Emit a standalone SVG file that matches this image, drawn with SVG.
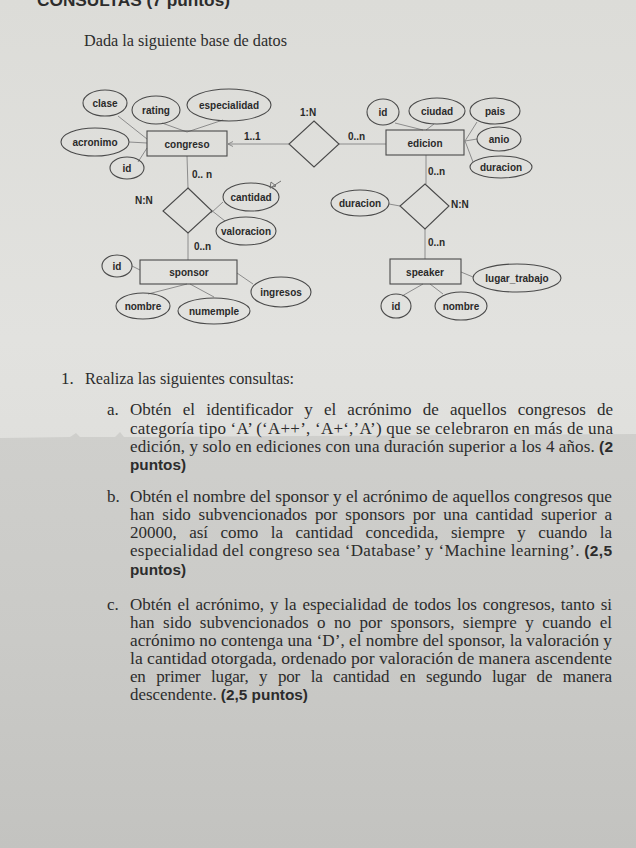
<svg xmlns="http://www.w3.org/2000/svg" width="636" height="848" viewBox="0 0 636 848">
<defs>
<linearGradient id="paper" x1="0" y1="0" x2="0" y2="1">
<stop offset="0" stop-color="#dcdcd8"/>
<stop offset="0.4" stop-color="#e2e2df"/>
<stop offset="1" stop-color="#d6d6d3"/>
</linearGradient>
<linearGradient id="shade" x1="0" y1="0" x2="0" y2="1">
<stop offset="0" stop-color="#cfcfcc"/>
<stop offset="0.5" stop-color="#cacac7"/>
<stop offset="1" stop-color="#c3c3c0"/>
</linearGradient>
<marker id="arr" markerWidth="6" markerHeight="6" refX="5" refY="3" orient="auto" markerUnits="userSpaceOnUse">
<path d="M0,0.5 L5,3 L0,5.5" fill="none" stroke="#777" stroke-width="0.8"/>
</marker>
<style>
.sh{fill:none;stroke:#4a4a4a;stroke-width:1.1}
.ln{fill:none;stroke:#8c8c8c;stroke-width:1}
.lb{font-family:"Liberation Sans",Arial,sans-serif;font-weight:bold;font-size:10px;fill:#2a2a2a;text-anchor:middle;dominant-baseline:central}
.card{font-family:"Liberation Sans",Arial,sans-serif;font-weight:bold;font-size:10px;fill:#2a2a2a}
.tx{font-family:"Liberation Serif","Times New Roman",serif;font-size:17px;fill:#2c2c2c}
.bd{font-family:"Liberation Sans",Arial,sans-serif;font-weight:bold;font-size:15.5px}
</style>
</defs>
<rect x="0" y="0" width="636" height="848" fill="url(#paper)"/>
<path d="M0,438 L70,437 L76,433 L80,437 L115,437 L120,432 L124,437 L636,434 L636,848 L0,848 Z" fill="url(#shade)"/>

<text x="37" y="6" class="tx" style="font-family:'Liberation Sans',Arial,sans-serif;font-weight:bold;font-size:17px" textLength="193" lengthAdjust="spacingAndGlyphs">CONSULTAS (7 puntos)</text>
<text x="84" y="46" class="tx" textLength="203" lengthAdjust="spacingAndGlyphs">Dada la siguiente base de datos</text>

<g id="connectors">
<line class="ln" x1="118" y1="116" x2="147" y2="139"/>
<line class="ln" x1="162" y1="123" x2="187" y2="132"/>
<line class="ln" x1="223" y1="120" x2="187" y2="132"/>
<line class="ln" x1="129" y1="142" x2="147" y2="143"/>
<line class="ln" x1="138" y1="162" x2="147" y2="148"/>
<line class="ln" x1="289" y1="144" x2="228" y2="144" marker-end="url(#arr)"/>
<line class="ln" x1="339" y1="144" x2="386" y2="144"/>
<line class="ln" x1="395" y1="123" x2="423" y2="130"/>
<line class="ln" x1="434" y1="124" x2="426" y2="130"/>
<line class="ln" x1="477" y1="122" x2="465" y2="141"/>
<line class="ln" x1="477" y1="139" x2="465" y2="141"/>
<line class="ln" x1="473" y1="162" x2="465" y2="141"/>
<line class="ln" x1="426" y1="155" x2="426" y2="184"/>
<line class="ln" x1="389" y1="204" x2="400" y2="206"/>
<line class="ln" x1="425" y1="229" x2="425" y2="259"/>
<line class="ln" x1="461" y1="272" x2="473" y2="277"/>
<line class="ln" x1="423" y1="284" x2="402" y2="296"/>
<line class="ln" x1="430" y1="284" x2="443" y2="294"/>
<line class="ln" x1="187" y1="156" x2="188" y2="188"/>
<line class="ln" x1="223" y1="202" x2="211" y2="213"/>
<line class="ln" x1="225" y1="221" x2="211" y2="210"/>
<line class="ln" x1="188" y1="233" x2="188" y2="260"/>
<line class="ln" x1="132" y1="266" x2="140" y2="270"/>
<line class="ln" x1="237" y1="273" x2="253" y2="284"/>
<line class="ln" x1="187" y1="284" x2="148" y2="294"/>
<line class="ln" x1="190" y1="284" x2="214" y2="297"/>
</g>

<g id="congreso"><rect class="sh" x="147" y="131" width="80" height="25"/><text class="lb" x="187" y="144">congreso</text></g>
<g id="clase"><ellipse class="sh" cx="105" cy="103" rx="22" ry="13"/><text class="lb" x="105" y="103">clase</text></g>
<g id="rating"><ellipse class="sh" cx="156" cy="110" rx="24" ry="14"/><text class="lb" x="156" y="110">rating</text></g>
<g id="especialidad"><ellipse class="sh" cx="229" cy="105" rx="42" ry="16"/><text class="lb" x="229" y="105">especialidad</text></g>
<g id="acronimo"><ellipse class="sh" cx="95" cy="142" rx="34" ry="14"/><text class="lb" x="95" y="142">acronimo</text></g>
<g id="id-congreso"><ellipse class="sh" cx="127" cy="168" rx="17" ry="11"/><text class="lb" x="127" y="168">id</text></g>

<g id="rel-1N"><polygon class="sh" points="314,121 339,144 314,167 289,144"/><text class="card" x="300" y="116">1:N</text><text class="card" x="244" y="140">1..1</text><text class="card" x="348" y="140">0..n</text></g>

<g id="edicion"><rect class="sh" x="386" y="130" width="78" height="25"/><text class="lb" x="425" y="143">edicion</text></g>
<g id="id-edicion"><ellipse class="sh" cx="383" cy="112" rx="16" ry="13"/><text class="lb" x="383" y="112">id</text></g>
<g id="ciudad"><ellipse class="sh" cx="437" cy="111" rx="28" ry="13"/><text class="lb" x="437" y="111">ciudad</text></g>
<g id="pais"><ellipse class="sh" cx="495" cy="111" rx="25" ry="13"/><text class="lb" x="495" y="111">pais</text></g>
<g id="anio"><ellipse class="sh" cx="499" cy="139" rx="22" ry="12"/><text class="lb" x="499" y="139">anio</text></g>
<g id="duracion-edicion"><ellipse class="sh" cx="501" cy="167" rx="31" ry="11"/><text class="lb" x="501" y="167">duracion</text></g>

<g id="rel-NN-right"><polygon class="sh" points="425,184 449,206 425,229 400,206"/><text class="card" x="428" y="175">0..n</text><text class="card" x="451" y="208">N:N</text><text class="card" x="428" y="246">0..n</text></g>
<g id="duracion-rel"><ellipse class="sh" cx="360" cy="203" rx="29" ry="13"/><text class="lb" x="360" y="203">duracion</text></g>

<g id="speaker"><rect class="sh" x="390" y="259" width="71" height="25"/><text class="lb" x="425" y="272">speaker</text></g>
<g id="lugar_trabajo"><ellipse class="sh" cx="517" cy="278" rx="44" ry="14"/><text class="lb" x="517" y="278">lugar_trabajo</text></g>
<g id="id-speaker"><ellipse class="sh" cx="396" cy="306" rx="15" ry="12"/><text class="lb" x="396" y="306">id</text></g>
<g id="nombre-speaker"><ellipse class="sh" cx="461" cy="306" rx="26" ry="14"/><text class="lb" x="461" y="306">nombre</text></g>

<g id="rel-NN-left"><polygon class="sh" points="188,188 212,211 188,233 163,211"/><text class="card" x="192" y="178">0.. n</text><text class="card" x="135" y="204">N:N</text><text class="card" x="194" y="250">0..n</text></g>
<g id="cantidad"><ellipse class="sh" cx="251" cy="197" rx="28" ry="14"/><text class="lb" x="251" y="197">cantidad</text><path d="M270,188 L281,181 M270,188 L271,182 L276,186 Z" fill="none" stroke="#666" stroke-width="0.9"/></g>
<g id="valoracion"><ellipse class="sh" cx="246" cy="231" rx="30" ry="14"/><text class="lb" x="246" y="231">valoracion</text></g>

<g id="sponsor"><rect class="sh" x="140" y="260" width="97" height="24"/><text class="lb" x="189" y="272">sponsor</text></g>
<g id="id-sponsor"><ellipse class="sh" cx="117" cy="266" rx="15" ry="11"/><text class="lb" x="117" y="266">id</text></g>
<g id="ingresos"><ellipse class="sh" cx="281" cy="292" rx="30" ry="15"/><text class="lb" x="281" y="292">ingresos</text></g>
<g id="nombre-sponsor"><ellipse class="sh" cx="143" cy="306" rx="27" ry="13"/><text class="lb" x="143" y="306">nombre</text></g>
<g id="numemple"><ellipse class="sh" cx="214" cy="311" rx="36" ry="13"/><text class="lb" x="214" y="311">numemple</text></g>

<text class="tx" x="61" y="384">1.</text>
<text class="tx" x="85" y="384" textLength="209" lengthAdjust="spacingAndGlyphs">Realiza las siguientes consultas:</text>

<text class="tx" x="107" y="415">a.</text>
<text class="tx" x="130" y="415" style="word-spacing:6.9px" textLength="483" lengthAdjust="spacing">Obtén el identificador y el acrónimo de aquellos congresos de</text>
<text class="tx" x="130" y="434" textLength="483" lengthAdjust="spacing">categoría tipo ‘A’ (‘A++’, ‘A+‘,’A’) que se celebraron en más de una</text>
<text class="tx" x="130" y="452" textLength="483" lengthAdjust="spacing">edición, y solo en ediciones con una duración superior a los 4 años. <tspan class="bd">(2</tspan></text>
<text class="tx bd" x="130" y="470" textLength="56" lengthAdjust="spacingAndGlyphs">puntos)</text>

<text class="tx" x="107" y="502">b.</text>
<text class="tx" x="130" y="502" textLength="482" lengthAdjust="spacingAndGlyphs">Obtén el nombre del sponsor y el acrónimo de aquellos congresos que</text>
<text class="tx" x="130" y="520" style="word-spacing:3.6px" textLength="482" lengthAdjust="spacing">han sido subvencionados por sponsors por una cantidad superior a</text>
<text class="tx" x="130" y="538" style="word-spacing:8.2px" textLength="482" lengthAdjust="spacing">20000, así como la cantidad concedida, siempre y cuando la</text>
<text class="tx" x="130" y="556" textLength="482" lengthAdjust="spacing">especialidad del congreso sea ‘Database’ y ‘Machine learning’. <tspan class="bd">(2,5</tspan></text>
<text class="tx bd" x="130" y="575" textLength="56" lengthAdjust="spacingAndGlyphs">puntos)</text>

<text class="tx" x="107" y="610">c.</text>
<text class="tx" x="130" y="610" style="word-spacing:1.6px" textLength="482" lengthAdjust="spacing">Obtén el acrónimo, y la especialidad de todos los congresos, tanto si</text>
<text class="tx" x="130" y="628" style="word-spacing:4.2px" textLength="482" lengthAdjust="spacing">han sido subvencionados o no por sponsors, siempre y cuando el</text>
<text class="tx" x="130" y="646" textLength="482" lengthAdjust="spacingAndGlyphs">acrónimo no contenga una ‘D’, el nombre del sponsor, la valoración y</text>
<text class="tx" x="130" y="664" textLength="482" lengthAdjust="spacingAndGlyphs">la cantidad otorgada, ordenado por valoración de manera ascendente</text>
<text class="tx" x="130" y="682" style="word-spacing:6.5px" textLength="482" lengthAdjust="spacing">en primer lugar, y por la cantidad en segundo lugar de manera</text>
<text class="tx" x="130" y="700" textLength="178" lengthAdjust="spacingAndGlyphs">descendente. <tspan class="bd">(2,5 puntos)</tspan></text>
</svg>
